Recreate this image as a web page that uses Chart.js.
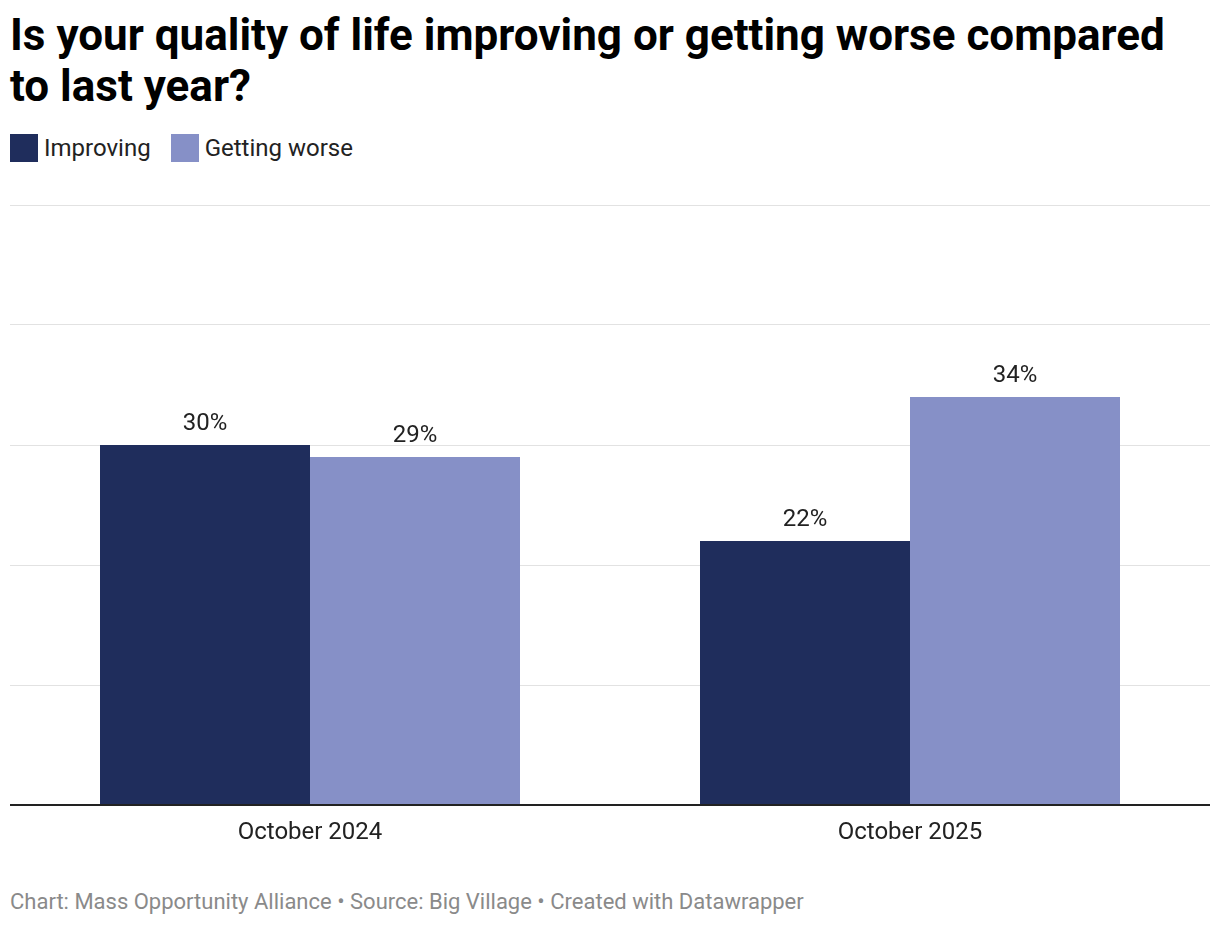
<!DOCTYPE html>
<html lang="en">
<head>
<meta charset="UTF-8">
<title>Quality of life</title>
<script src="https://cdn.jsdelivr.net/npm/chart.js"></script>
<style>
  body { margin: 0; background: #fff; font-family: Roboto, sans-serif; width: 1220px; height: 926px; position: relative; overflow: hidden; }
  h1 { position: absolute; left: 10px; top: 10px; margin: 0; font-size: 44px; line-height: 51px; font-weight: 700; color: #000; width: 1200px; }
  .legend { position: absolute; left: 10px; top: 134px; display: flex; align-items: center; font-size: 24px; color: #222; }
  .legend span.box { display: inline-block; width: 28px; height: 28px; margin-right: 6px; }
  .legend .item { display: flex; align-items: center; margin-right: 20px; }
  .wrap { position: absolute; left: 10px; top: 195px; width: 1200px; height: 660px; }
  .foot { position: absolute; left: 10px; top: 889px; font-size: 22px; color: #8a8a8a; }
</style>
</head>
<body>
<h1>Is your quality of life improving or getting worse compared to last year?</h1>
<div class="legend">
  <div class="item"><span class="box" style="background:#1f2d5c"></span>Improving</div>
  <div class="item"><span class="box" style="background:#8690c7"></span>Getting worse</div>
</div>
<div class="wrap"><canvas id="chart"></canvas></div>
<div class="foot">Chart: Mass Opportunity Alliance • Source: Big Village • Created with Datawrapper</div>
<script>
const categories = ['October 2024', 'October 2025'];
const improving = [30, 22];
const gettingWorse = [29, 34];
const yTicks = [0, 10, 20, 30, 40, 50];

// value labels above each bar
const barLabels = {
  id: 'barLabels',
  afterDatasetsDraw(chart) {
    const c = chart.ctx;
    c.save();
    c.font = '24px Roboto';
    c.fillStyle = '#222';
    c.textAlign = 'center';
    c.textBaseline = 'middle';
    chart.data.datasets.forEach((ds, i) => {
      chart.getDatasetMeta(i).data.forEach((bar, j) => {
        c.fillText(ds.data[j] + '%', bar.x, bar.y - 21);
      });
    });
    c.restore();
  }
};

new Chart(document.getElementById('chart'), {
  type: 'bar',
  data: {
    labels: categories,
    datasets: [
      { label: 'Improving', data: improving, backgroundColor: '#1f2d5c', categoryPercentage: 0.7, barPercentage: 1.0 },
      { label: 'Getting worse', data: gettingWorse, backgroundColor: '#8690c7', categoryPercentage: 0.7, barPercentage: 1.0 }
    ]
  },
  options: {
    responsive: true,
    maintainAspectRatio: false,
    animation: false,
    layout: { padding: { top: 10, left: 0, right: 0, bottom: 0 } },
    plugins: { legend: { display: false }, tooltip: { enabled: false } },
    scales: {
      x: {
        grid: { display: false },
        border: { color: '#222', width: 2, z: 1 },
        ticks: { color: '#222', font: { family: 'Roboto', size: 24 }, padding: 6 },
        afterFit(scale) { scale.height = 50; }
      },
      y: {
        min: yTicks[0],
        max: yTicks[yTicks.length - 1],
        afterBuildTicks(scale) { scale.ticks = yTicks.map(v => ({ value: v })); },
        grid: { color: '#e2e2e2', lineWidth: 1, drawTicks: false },
        border: { display: false },
        ticks: { display: false },
        afterFit(scale) { scale.width = 0; }
      }
    }
  },
  plugins: [barLabels]
});
</script>
</body>
</html>
